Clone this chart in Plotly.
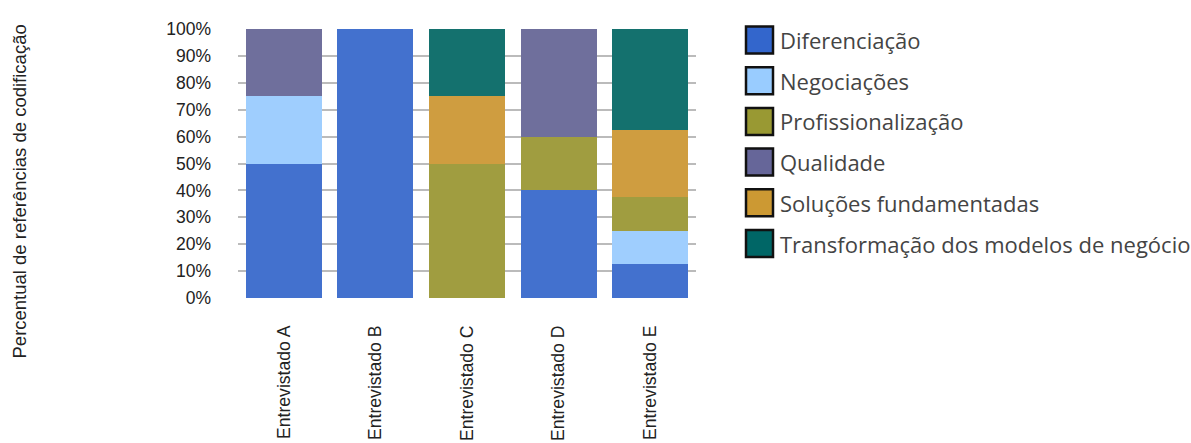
import plotly.graph_objects as go

# Entrevistados (categorias do eixo x)
entrevistados = ["Entrevistado A", "Entrevistado B", "Entrevistado C", "Entrevistado D", "Entrevistado E"]

# Percentual de referências de codificação por categoria
diferenciacao = [50, 100, 0, 40, 12.5]
negociacoes = [25, 0, 0, 0, 12.5]
profissionalizacao = [0, 0, 50, 20, 12.5]
qualidade = [25, 0, 0, 40, 0]
solucoes = [0, 0, 25, 0, 25]
transformacao = [0, 0, 25, 0, 37.5]

series = [
    ("Diferenciação", diferenciacao, "#4371CE", "#3366CC"),
    ("Negociações", negociacoes, "#9FCEFE", "#99CCFF"),
    ("Profissionalização", profissionalizacao, "#A09D40", "#999933"),
    ("Qualidade", qualidade, "#6F6F9C", "#666699"),
    ("Soluções fundamentadas", solucoes, "#CF9D40", "#CC9933"),
    ("Transformação dos modelos de negócio", transformacao, "#14716E", "#006666"),
]

y_ticks = [0, 10, 20, 30, 40, 50, 60, 70, 80, 90, 100]
y_ticklabels = [f"{v}%" for v in y_ticks]

W, H = 1191, 443
ML, MR, MT, MB = 238, 495, 29, 145
PW, PH = W - ML - MR, H - MT - MB


def px(x):
    """Posição horizontal em pixels -> coordenada 'paper'."""
    return (x - ML) / PW


def py(y):
    """Posição vertical em pixels (a partir do topo) -> coordenada 'paper'."""
    return (H - MB - y) / PH


fig = go.Figure()
for name, vals, color, _ in series:
    fig.add_trace(go.Bar(
        x=entrevistados, y=vals, name=name,
        marker=dict(color=color, line=dict(width=0)),
        showlegend=False,
    ))

# Legenda desenhada à parte, com quadrados grandes e contorno preto
leg_left, leg_first, leg_step, sq = 746, 40, 40.7, 27
for i, (name, _, _, leg_color) in enumerate(series):
    yc = leg_first + i * leg_step
    fig.add_shape(type="rect", xref="paper", yref="paper",
                  x0=px(leg_left), x1=px(leg_left + sq),
                  y0=py(yc + sq / 2), y1=py(yc - sq / 2),
                  fillcolor=leg_color, line=dict(color="#111111", width=2.5))
    fig.add_annotation(xref="paper", yref="paper", x=px(leg_left + sq + 5), y=py(yc),
                       text=name, showarrow=False, xanchor="left", yanchor="middle",
                       font=dict(family="Open Sans", size=22, color="#444444"))

fig.add_annotation(xref="paper", yref="paper", x=px(18.5), y=py(192),
                   text="Percentual de referências de codificação", textangle=-90,
                   showarrow=False, xanchor="center", yanchor="middle",
                   font=dict(family="Liberation Sans", size=18.5, color="#222222"))

fig.update_layout(
    width=W, height=H,
    barmode="stack", bargap=0.17,
    plot_bgcolor="white", paper_bgcolor="white",
    margin=dict(l=ML, r=MR, t=MT, b=MB, pad=0, autoexpand=False),
    font=dict(family="Liberation Sans", size=16, color="#222222"),
    xaxis=dict(tickangle=-90, showgrid=False, zeroline=False, showline=False,
               ticks="", ticklabelstandoff=23, automargin=False,
               tickfont=dict(family="Liberation Sans", size=17.6, color="#222222")),
    yaxis=dict(range=[0, 100], tickvals=y_ticks, ticktext=y_ticklabels,
               showgrid=True, gridcolor="#BBBBBB", gridwidth=1.5, automargin=False,
               zeroline=False, showline=False, ticks="", ticklabelstandoff=26,
               tickfont=dict(family="Liberation Sans", size=17.5, color="#222222")),
)

fig.write_html("out.html")
